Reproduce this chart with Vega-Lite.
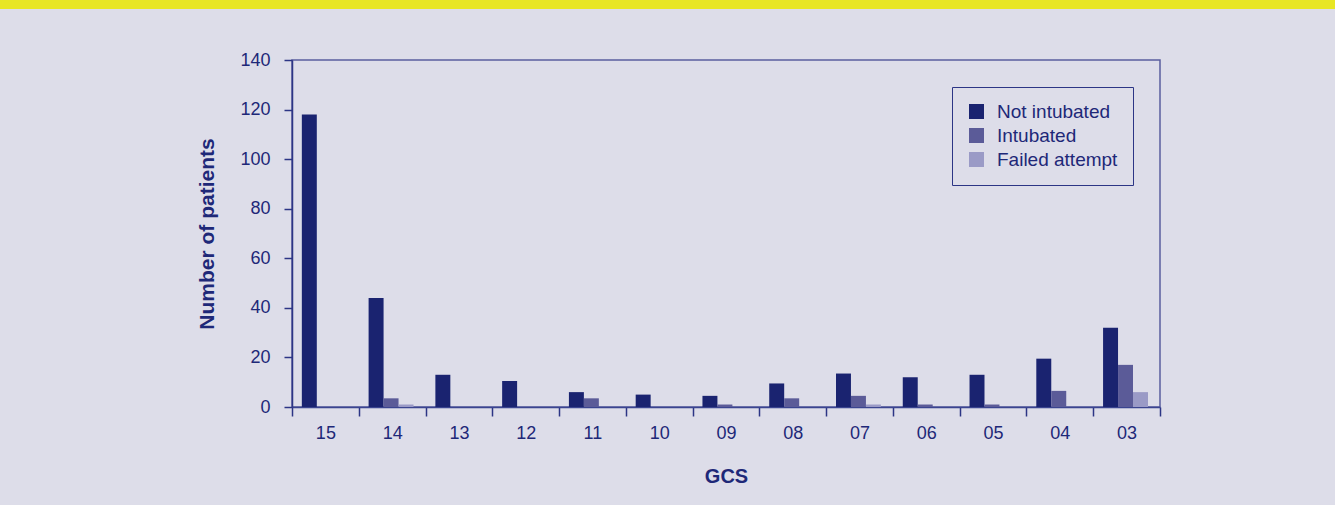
{
  "$schema": "https://vega.github.io/schema/vega-lite/v6.json",
  "background": "#dddde9",
  "padding": 0,
  "spacing": 41,
  "config": {
    "font": "Liberation Sans",
    "view": {"stroke": null}
  },
  "resolve": {"scale": {"color": "independent"}, "legend": {"color": "independent"}},
  "datasets": {
    "gcs": [
      {"gcs": "15", "status": "Not intubated", "count": 118},
      {"gcs": "14", "status": "Not intubated", "count": 44},
      {"gcs": "14", "status": "Intubated", "count": 3.5},
      {"gcs": "14", "status": "Failed attempt", "count": 1},
      {"gcs": "13", "status": "Not intubated", "count": 13},
      {"gcs": "12", "status": "Not intubated", "count": 10.5},
      {"gcs": "11", "status": "Not intubated", "count": 6},
      {"gcs": "11", "status": "Intubated", "count": 3.5},
      {"gcs": "10", "status": "Not intubated", "count": 5},
      {"gcs": "09", "status": "Not intubated", "count": 4.5},
      {"gcs": "09", "status": "Intubated", "count": 1},
      {"gcs": "08", "status": "Not intubated", "count": 9.5},
      {"gcs": "08", "status": "Intubated", "count": 3.5},
      {"gcs": "07", "status": "Not intubated", "count": 13.5},
      {"gcs": "07", "status": "Intubated", "count": 4.5},
      {"gcs": "07", "status": "Failed attempt", "count": 1},
      {"gcs": "06", "status": "Not intubated", "count": 12},
      {"gcs": "06", "status": "Intubated", "count": 1},
      {"gcs": "05", "status": "Not intubated", "count": 13},
      {"gcs": "05", "status": "Intubated", "count": 1},
      {"gcs": "04", "status": "Not intubated", "count": 19.5},
      {"gcs": "04", "status": "Intubated", "count": 6.5},
      {"gcs": "03", "status": "Not intubated", "count": 32},
      {"gcs": "03", "status": "Intubated", "count": 17},
      {"gcs": "03", "status": "Failed attempt", "count": 6}
    ]
  },
  "vconcat": [
    {
      "width": 1335,
      "height": 9,
      "view": {"fill": "#e8e624", "stroke": null},
      "data": {"values": []},
      "mark": "point",
      "encoding": {}
    },
    {
      "spacing": 0,
      "resolve": {"scale": {"color": "independent"}, "legend": {"color": "independent"}},
      "hconcat": [
        {
          "width": 196,
          "height": 454,
          "view": {"stroke": null},
          "data": {"values": []},
          "mark": "point",
          "encoding": {}
        },
        {
          "width": 868,
          "height": 347,
          "view": {"stroke": "#5a5e9e", "strokeWidth": 1.5},
          "data": {"name": "gcs"},
          "mark": {"type": "bar"},
          "encoding": {
            "x": {
              "field": "gcs",
              "type": "nominal",
              "sort": ["15", "14", "13", "12", "11", "10", "09", "08", "07", "06", "05", "04", "03"],
              "scale": {"paddingInner": 0, "paddingOuter": 0},
              "axis": {
                "title": "GCS",
                "titleFontSize": 20,
                "titleFontWeight": "bold",
                "titleColor": "#1e2878",
                "titlePadding": 24,
                "labelAngle": 0,
                "labelFontSize": 18,
                "labelColor": "#1e2878",
                "labelPadding": 8,
                "tickBand": "extent",
                "tickSize": 9,
                "tickColor": "#2c3585",
                "tickWidth": 1.5,
                "domainColor": "#3a4490",
                "domainWidth": 1.5,
                "grid": false
              }
            },
            "xOffset": {
              "field": "status",
              "type": "nominal",
              "sort": ["Not intubated", "Intubated", "Failed attempt"],
              "scale": {"paddingInner": 0, "paddingOuter": 0.73, "align": 0.45}
            },
            "y": {
              "field": "count",
              "type": "quantitative",
              "scale": {"domain": [0, 140], "nice": false},
              "axis": {
                "title": "Number of patients",
                "titleFontSize": 21,
                "titleFontWeight": "bold",
                "titleColor": "#1e2878",
                "titlePadding": 22,
                "values": [0, 20, 40, 60, 80, 100, 120, 140],
                "labelFontSize": 18,
                "labelColor": "#1e2878",
                "labelPadding": 14,
                "tickSize": 8,
                "tickColor": "#2c3585",
                "tickWidth": 1.5,
                "domainColor": "#2c3585",
                "domainWidth": 1.5,
                "grid": false
              }
            },
            "color": {
              "field": "status",
              "type": "nominal",
              "sort": ["Not intubated", "Intubated", "Failed attempt"],
              "scale": {
                "domain": ["Not intubated", "Intubated", "Failed attempt"],
                "range": ["#1a2370", "#5b5b98", "#9a9ac6"]
              },
              "legend": {
                "title": null,
                "orient": "top-right",
                "offset": 27,
                "strokeColor": "#2c3585",
                "fillColor": "#dddde9",
                "padding": 15,
                "symbolType": "square",
                "symbolSize": 225,
                "symbolStrokeWidth": 0,
                "symbolOpacity": 1,
                "labelFontSize": 19,
                "labelColor": "#1e2878",
                "labelOffset": 11,
                "rowPadding": 4
              }
            }
          }
        }
      ]
    }
  ]
}
